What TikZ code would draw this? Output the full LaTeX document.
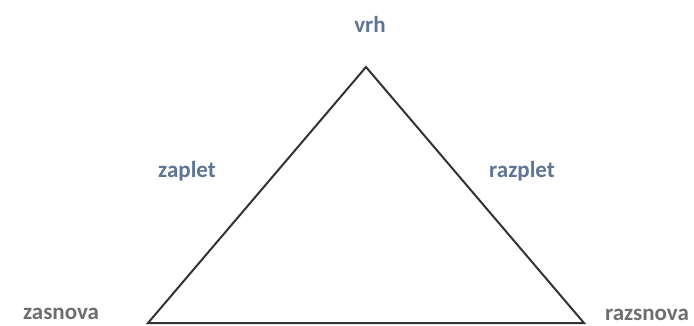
\documentclass[tikz,border=0pt]{standalone}
\usepackage{fontspec}
\setmainfont{Carlito}
\definecolor{bluelab}{HTML}{5E7594}
\definecolor{graylab}{HTML}{6E6E6E}
\definecolor{edge}{HTML}{333333}
\begin{document}
\begin{tikzpicture}[x=1pt,y=1pt,
  lab/.style={font=\fontsize{23}{26}\selectfont\bfseries, anchor=base, inner sep=0pt},
  side/.style={draw=edge, line width=2pt, line join=miter}]
\useasboundingbox (0,0) rectangle (694,325);
\coordinate (top) at (366,258);
\coordinate (bl) at (148,2);
\coordinate (br) at (584,2);
\draw[side] (top) -- (bl) -- (br) -- cycle;
\node[lab, text=bluelab] (vrh) at (370,293) {vrh};
\node[lab, text=bluelab] (zaplet) at (187,148) {zaplet};
\node[lab, text=bluelab] (razplet) at (522,148) {razplet};
\node[lab, text=graylab] (zasnova) at (61,6) {zasnova};
\node[lab, text=graylab] (razsnova) at (647,5) {razsnova};
\end{tikzpicture}
\end{document}
